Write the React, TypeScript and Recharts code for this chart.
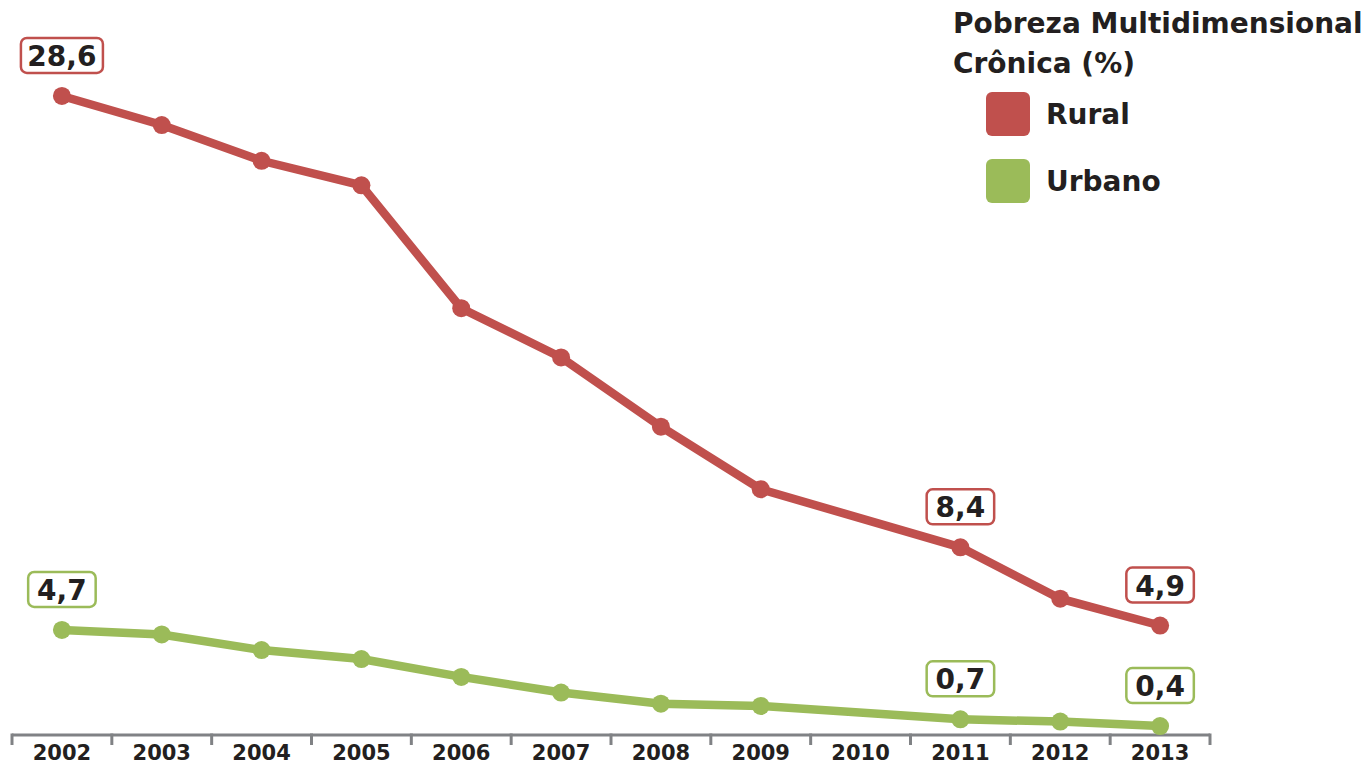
import React from 'react';
import { LineChart, Line, XAxis, YAxis, LabelList } from 'recharts';

const years = [2002, 2003, 2004, 2005, 2006, 2007, 2008, 2009, 2010, 2011, 2012, 2013];
const rural: (number | null)[] = [28.6, 27.3, 25.7, 24.6, 19.1, 16.9, 13.8, 11.0, null, 8.4, 6.1, 4.9];
const urban: (number | null)[] = [4.7, 4.5, 3.8, 3.4, 2.6, 1.9, 1.4, 1.3, null, 0.7, 0.6, 0.4];
const labelYears = [2002, 2011, 2013];
const titleLines = ['Pobreza Multidimensional', 'Crônica (%)'];
const seriesNames = ['Rural', 'Urbano'];

const RED = '#C0504D';
const GREEN = '#9BBB59';
const AXIS = '#808285';
const TEXT = '#231F20';
const FONT = '"DejaVu Sans", Arial, sans-serif';

const data = years.map((year, idx) => ({ idx, year, rural: rural[idx], urban: urban[idx] }));
const xTicks: number[] = [];
for (let i = -0.5; i <= years.length - 0.5; i += 0.5) xTicks.push(i);

const fmt = (v: number) => v.toFixed(1).replace('.', ',');

const AxisTick = (props: any) => {
  const { x, y, payload } = props;
  const v = payload.value as number;
  if (Number.isInteger(v)) {
    return (
      <text x={x} y={y + 25} textAnchor="middle" fontFamily={FONT} fontWeight="bold" fontSize={21} fill={TEXT}>
        {years[v]}
      </text>
    );
  }
  return <line x1={x} x2={x} y1={y - 1.5} y2={y + 10} stroke={AXIS} strokeWidth={3} />;
};

const makeLabel = (color: string) => (props: any) => {
  const { x, y, index, value } = props;
  if (value == null || !labelYears.includes(years[index])) return null;
  const txt = fmt(Number(value));
  const w = txt.length * 14.5 + 24;
  const h = 35;
  const bottom = y - 23;
  return (
    <g>
      <rect x={x - w / 2} y={bottom - h} width={w} height={h} rx={6} ry={6} fill="#fff" stroke={color} strokeWidth={2.5} />
      <text x={x} y={bottom - 7} textAnchor="middle" fontFamily={FONT} fontWeight="bold" fontSize={28} fill={TEXT}>
        {txt}
      </text>
    </g>
  );
};

export default function App() {
  return (
    <div style={{ position: 'absolute', left: 0, top: 0, width: 1370, height: 766, background: '#fff' }}>
      <LineChart width={1370} height={766} data={data} margin={{ top: 20, right: 160, bottom: 0, left: 12 }}>
        <XAxis
          dataKey="idx"
          type="number"
          domain={[-0.5, years.length - 0.5]}
          ticks={xTicks}
          interval={0}
          tickSize={0}
          tickMargin={0}
          tickLine={false}
          axisLine={{ stroke: AXIS, strokeWidth: 3 }}
          tick={<AxisTick />}
          height={31}
        />
        <YAxis hide domain={[0, 32]} />
        <Line
          dataKey="urban"
          stroke={GREEN}
          strokeWidth={8.5}
          connectNulls
          dot={{ r: 9, fill: GREEN, stroke: 'none' }}
          activeDot={false}
          isAnimationActive={false}
        >
          <LabelList dataKey="urban" content={makeLabel(GREEN)} />
        </Line>
        <Line
          dataKey="rural"
          stroke={RED}
          strokeWidth={8.5}
          connectNulls
          dot={{ r: 9, fill: RED, stroke: 'none' }}
          activeDot={false}
          isAnimationActive={false}
        >
          <LabelList dataKey="rural" content={makeLabel(RED)} />
        </Line>
      </LineChart>
      <div style={{ position: 'absolute', left: 953, top: 4, fontFamily: FONT, fontWeight: 'bold', color: TEXT, fontSize: 28 }}>
        {titleLines.map((t) => (
          <div key={t} style={{ lineHeight: '40px', whiteSpace: 'nowrap' }}>{t}</div>
        ))}
        <div style={{ marginTop: 8 }}>
          {seriesNames.map((n, i) => (
            <div key={n} style={{ display: 'flex', alignItems: 'center', marginLeft: 33, height: 44, marginBottom: 23 }}>
              <div style={{ width: 44, height: 44, borderRadius: 6, background: i === 0 ? RED : GREEN }} />
              <span style={{ marginLeft: 16 }}>{n}</span>
            </div>
          ))}
        </div>
      </div>
    </div>
  );
}
